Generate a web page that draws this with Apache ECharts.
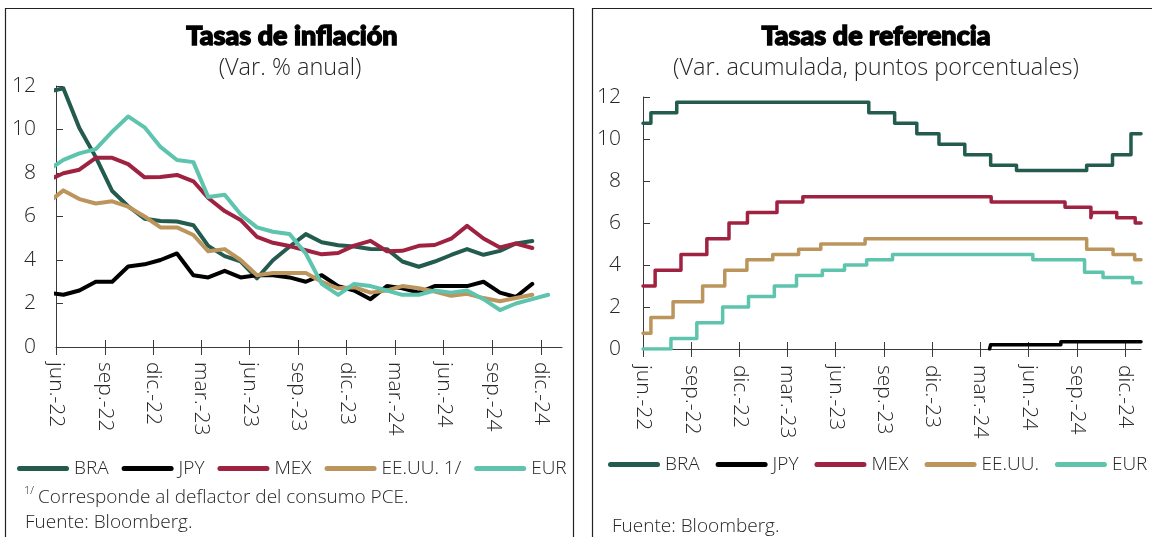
<!DOCTYPE html>
<html>
<head>
<meta charset="utf-8">
<script src="https://cdn.jsdelivr.net/npm/echarts@6/dist/echarts.min.js"></script>
<style>
html, body { margin: 0; padding: 0; background: #fff; }
#chart { width: 1152px; height: 537px; }
</style>
</head>
<body>
<div id="chart"></div>
<script>
// eje x: trimestres
const tickDates = ['2022-06-01', '2022-09-01', '2022-12-01', '2023-03-01', '2023-06-01', '2023-09-01',
  '2023-12-01', '2024-03-01', '2024-06-01', '2024-09-01', '2024-12-01'];
const tickLabels = ['jun.-22', 'sep.-22', 'dic.-22', 'mar.-23', 'jun.-23', 'sep.-23',
  'dic.-23', 'mar.-24', 'jun.-24', 'sep.-24', 'dic.-24'];

// Tasas de inflación (var. % anual), mensual may-22 .. dic-24
const inflMonths = ['2022-05', '2022-06', '2022-07', '2022-08', '2022-09', '2022-10', '2022-11', '2022-12',
  '2023-01', '2023-02', '2023-03', '2023-04', '2023-05', '2023-06', '2023-07', '2023-08', '2023-09',
  '2023-10', '2023-11', '2023-12', '2024-01', '2024-02', '2024-03', '2024-04', '2024-05', '2024-06',
  '2024-07', '2024-08', '2024-09', '2024-10', '2024-11', '2024-12'];
const inflBRA = [11.73, 11.89, 10.07, 8.73, 7.17, 6.47, 5.90, 5.79, 5.77, 5.60, 4.65, 4.18, 3.94, 3.16, 3.99, 4.61,
  5.19, 4.82, 4.68, 4.62, 4.51, 4.50, 3.93, 3.69, 3.93, 4.23, 4.50, 4.24, 4.42, 4.76, 4.87, null];
const inflJPY = [2.5, 2.4, 2.6, 3.0, 3.0, 3.7, 3.8, 4.0, 4.3, 3.3, 3.2, 3.5, 3.2, 3.3, 3.3, 3.2,
  3.0, 3.3, 2.8, 2.6, 2.2, 2.8, 2.7, 2.5, 2.8, 2.8, 2.8, 3.0, 2.5, 2.3, 2.9, null];
const inflMEX = [7.65, 7.99, 8.15, 8.70, 8.70, 8.41, 7.80, 7.82, 7.91, 7.62, 6.85, 6.25, 5.84, 5.06, 4.79, 4.64,
  4.45, 4.26, 4.32, 4.66, 4.88, 4.40, 4.42, 4.65, 4.69, 4.98, 5.57, 4.99, 4.58, 4.76, 4.55, null];
const inflUSA = [6.6, 7.2, 6.8, 6.6, 6.7, 6.45, 6.0, 5.5, 5.5, 5.15, 4.4, 4.5, 4.0, 3.3, 3.4, 3.4,
  3.4, 3.0, 2.7, 2.75, 2.5, 2.6, 2.8, 2.7, 2.55, 2.35, 2.45, 2.25, 2.1, 2.25, 2.4, null];
const inflEUR = [8.1, 8.6, 8.9, 9.1, 9.9, 10.6, 10.1, 9.2, 8.6, 8.5, 6.9, 7.0, 6.1, 5.5, 5.3, 5.2,
  4.3, 2.9, 2.4, 2.9, 2.8, 2.6, 2.4, 2.4, 2.6, 2.5, 2.6, 2.2, 1.7, 2.0, 2.2, 2.4];

// Tasas de referencia (var. acumulada, pp): fechas de cambio y nivel
const refBRAdates = ['2022-06-01', '2022-06-16', '2022-08-04', '2023-08-03', '2023-09-21', '2023-11-02', '2023-12-14',
  '2024-02-01', '2024-03-21', '2024-05-09', '2024-09-19', '2024-11-07', '2024-12-12', '2024-12-31'];
const refBRA = [10.75, 11.25, 11.75, 11.25, 10.75, 10.25, 9.75, 9.25, 8.75, 8.5, 8.75, 9.25, 10.25, 10.25];
const refJPYdates = ['2024-03-19', '2024-03-21', '2024-08-01', '2024-12-31'];
const refJPY = [0, 0.2, 0.35, 0.35];
const refMEXdates = ['2022-06-01', '2022-06-24', '2022-08-12', '2022-09-30', '2022-11-11', '2022-12-16', '2023-02-10',
  '2023-03-31', '2024-03-22', '2024-08-09', '2024-09-27', '2024-09-29', '2024-11-15', '2024-12-20', '2024-12-31'];
const refMEX = [3.0, 3.75, 4.5, 5.25, 6.0, 6.5, 7.0, 7.25, 7.0, 6.75, 6.25, 6.5, 6.25, 6.0, 6.0];
const refUSAdates = ['2022-06-01', '2022-06-16', '2022-07-28', '2022-09-22', '2022-11-03', '2022-12-15', '2023-02-02',
  '2023-03-23', '2023-05-04', '2023-07-27', '2024-09-19', '2024-11-08', '2024-12-19', '2024-12-31'];
const refUSA = [0.75, 1.5, 2.25, 3.0, 3.75, 4.25, 4.5, 4.75, 5.0, 5.25, 4.75, 4.5, 4.25, 4.25];
const refEURdates = ['2022-06-01', '2022-07-24', '2022-09-11', '2022-10-30', '2022-12-18', '2023-02-05', '2023-03-19',
  '2023-05-07', '2023-06-18', '2023-07-30', '2023-09-17', '2024-06-09', '2024-09-15', '2024-10-20', '2024-12-15', '2024-12-31'];
const refEUR = [0, 0.5, 1.25, 2.0, 2.5, 3.0, 3.5, 3.75, 4.0, 4.25, 4.5, 4.25, 3.65, 3.4, 3.15, 3.15];

const colors = { BRA: '#235B4E', JPY: '#000000', MEX: '#9F2241', USA: '#BC955C', EUR: '#5FC4AE' };

// días desde 1-jun-2022
function dayNum(s) {
  const p = s.split('-').map(Number);
  return (Date.UTC(p[0], p[1] - 1, p[2] || 15) - Date.UTC(2022, 5, 1)) / 864e5;
}
const tickVals = tickDates.map(dayNum);
function tickFmt(v) {
  const i = tickVals.indexOf(v);
  return i >= 0 ? tickLabels[i] : '';
}
function pairs(xs, ys) { return xs.map((x, i) => [dayNum(x), ys[i]]); }

const TXT = '#262626';
const AX = '#3a3a3a';
const FONT = "'Open Sans', 'Noto Sans', sans-serif";

function xAxes(grid, max, margin) {
  return [{
    type: 'value', gridIndex: grid, min: 0, max: max, position: 'bottom',
    axisLine: { onZero: false, lineStyle: { color: AX, width: 1 } },
    axisTick: { show: true, customValues: tickVals, length: 8, lineStyle: { color: AX } },
    axisLabel: {
      customValues: tickVals, formatter: tickFmt, rotate: -90, margin: margin,
      fontSize: 21, fontFamily: FONT, fontWeight: 300, color: TXT
    },
    splitLine: { show: false }
  }, {
    type: 'value', gridIndex: grid, min: 0, max: max, position: 'bottom',
    axisLine: { show: false, onZero: false },
    axisTick: { show: true, inside: true, customValues: tickVals, length: 7, lineStyle: { color: AX } },
    axisLabel: { show: false },
    splitLine: { show: false }
  }];
}
function yAxis(grid, margin) {
  return {
    type: 'value', gridIndex: grid, min: 0, max: 12, interval: 2,
    axisLine: { show: true, onZero: false, lineStyle: { color: AX, width: 1 } },
    axisTick: { show: true, inside: true, length: 7, lineStyle: { color: AX } },
    axisLabel: { margin: margin, fontSize: 21, fontFamily: FONT, fontWeight: 300, color: TXT },
    splitLine: { show: false }
  };
}
function lineSeries(name, xi, yi, data, color, width, step) {
  return {
    name: name, type: 'line', xAxisIndex: xi, yAxisIndex: yi, data: data,
    symbol: 'none', step: step || false, clip: true, color: color,
    lineStyle: { color: color, width: width, cap: 'round', join: 'round' }
  };
}

const legendIcon = 'path://M2.5,0H49.5A2.5,2.5,0,0,1,49.5,5H2.5A2.5,2.5,0,0,1,2.5,0Z';
function legend(left, top, gap, names) {
  return {
    left: left, top: top, padding: 0, itemWidth: 52, itemHeight: 5, itemGap: gap,
    icon: legendIcon, selectedMode: false, data: names,
    textStyle: { fontSize: 19, fontFamily: FONT, fontWeight: 300, color: TXT }
  };
}
function titleText(x, txt) {
  return { type: 'text', x: x, y: 36, style: { text: txt, fontFamily: 'Lato, sans-serif', fontWeight: 900, fontSize: 27,
    fill: '#000', stroke: '#000', lineWidth: 1.4, align: 'center', verticalAlign: 'middle' } };
}
function plainText(x, y, txt, size, align) {
  return { type: 'text', x: x, y: y, style: { text: txt, fontFamily: FONT, fontWeight: 300, fontSize: size,
    fill: TXT, align: align || 'left', verticalAlign: 'middle' } };
}

const myChart = echarts.init(document.getElementById('chart'));
const option = {
  animation: false,
  grid: [
    { left: 56, top: 86, width: 506, height: 261 },
    { left: 643, top: 97, width: 498, height: 252 }
  ],
  xAxis: xAxes(0, 954, 15).concat(xAxes(1, 944, 16)),
  yAxis: [yAxis(0, 20), yAxis(1, 22)],
  legend: [
    legend(17, 459, 13, ['BRA', 'JPY', 'MEX', 'EE.UU. 1/', 'EUR']),
    legend(608, 455, 16, ['BRA', 'JPY', 'MEX', 'EE.UU.', 'EUR'])
  ],
  graphic: [
    { type: 'rect', shape: { x: 5.5, y: 8.5, width: 568, height: 600 }, style: { fill: 'none', stroke: '#222', lineWidth: 1.2 } },
    { type: 'rect', shape: { x: 592.5, y: 8.5, width: 620, height: 600 }, style: { fill: 'none', stroke: '#222', lineWidth: 1.2 } },
    titleText(292, 'Tasas de inflación'),
    plainText(290, 68, '(Var. % anual)', 23.5, 'center'),
    titleText(876, 'Tasas de referencia'),
    plainText(876, 68, '(Var. acumulada, puntos porcentuales)', 23.5, 'center'),
    plainText(24, 491, '1/', 11),
    plainText(38, 498, 'Corresponde al deflactor del consumo PCE.', 19),
    plainText(25, 523, 'Fuente: Bloomberg.', 19),
    plainText(612, 527, 'Fuente: Bloomberg.', 19)
  ],
  series: [
    lineSeries('BRA', 0, 0, pairs(inflMonths, inflBRA), colors.BRA, 4),
    lineSeries('JPY', 0, 0, pairs(inflMonths, inflJPY), colors.JPY, 4),
    lineSeries('MEX', 0, 0, pairs(inflMonths, inflMEX), colors.MEX, 4),
    lineSeries('EE.UU. 1/', 0, 0, pairs(inflMonths, inflUSA), colors.USA, 4),
    lineSeries('EUR', 0, 0, pairs(inflMonths, inflEUR), colors.EUR, 4),
    lineSeries('BRA', 2, 1, pairs(refBRAdates, refBRA), colors.BRA, 3.5, 'end'),
    lineSeries('JPY', 2, 1, pairs(refJPYdates, refJPY), colors.JPY, 3.5, 'end'),
    lineSeries('MEX', 2, 1, pairs(refMEXdates, refMEX), colors.MEX, 3.5, 'end'),
    lineSeries('EE.UU.', 2, 1, pairs(refUSAdates, refUSA), colors.USA, 3.5, 'end'),
    lineSeries('EUR', 2, 1, pairs(refEURdates, refEUR), colors.EUR, 3.5, 'end')
  ]
};

if (option && typeof option === 'object') {
  myChart.setOption(option);
}
</script>
</body>
</html>
